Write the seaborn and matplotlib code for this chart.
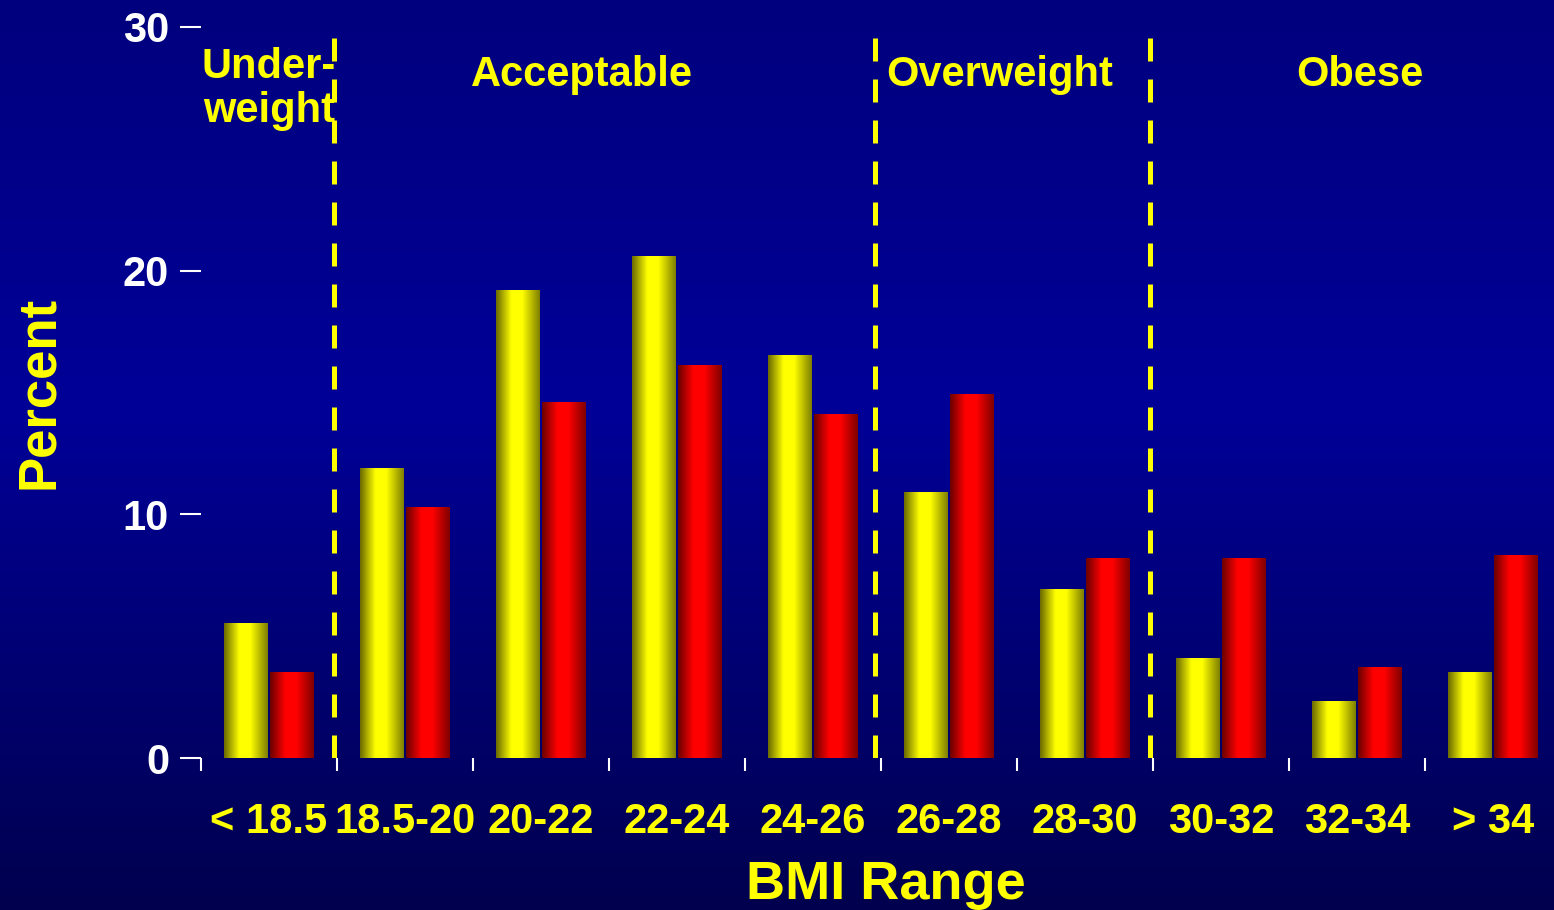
import numpy as np
import pandas as pd
import matplotlib.pyplot as plt
import matplotlib.colors as mcolors
import seaborn as sns

# -----------------------------
# Data
# -----------------------------
bmi_ranges = ["< 18.5", "18.5-20", "20-22", "22-24", "24-26",
              "26-28", "28-30", "30-32", "32-34", "> 34"]
series_a = [5.5, 11.9, 19.2, 20.6, 16.5, 10.9, 6.9, 4.1, 2.3, 3.5]
series_b = [3.5, 10.3, 14.6, 16.1, 14.1, 14.9, 8.2, 8.2, 3.7, 8.3]
series_names = ["Series A", "Series B"]
bar_colors = ["#FFFF00", "#FF0000"]

group_labels = ["Under-\nweight", "Acceptable", "Overweight", "Obese"]
group_label_x = [0.0, 2.3, 5.37, 8.02]
group_label_y = [27.45, 28.05, 28.05, 28.05]
divider_x = [0.48, 4.46, 6.48]
y_ticks = [0, 10, 20, 30]

df = pd.DataFrame({
    "BMI Range": bmi_ranges * 2,
    "Percent": series_a + series_b,
    "Group": [series_names[0]] * len(bmi_ranges) + [series_names[1]] * len(bmi_ranges),
})

sns.set_theme(style="white")
plt.rcParams['font.family'] = ['Liberation Sans', 'DejaVu Sans']
plt.rcParams['font.weight'] = 'bold'
plt.rcParams['axes.labelweight'] = 'bold'

fig = plt.figure(figsize=(15.54, 9.10), dpi=100)

# -----------------------------
# Background gradient
# -----------------------------
bg_ax = fig.add_axes([0, 0, 1, 1], zorder=-1)
bg_cmap = mcolors.LinearSegmentedColormap.from_list(
    "bg", [(0, "#00007E"), (0.45, "#000098"), (1, "#00004E")])
bg_ax.imshow(np.linspace(0, 1, 256)[:, None], cmap=bg_cmap, aspect='auto',
             extent=[0, 1, 0, 1])
bg_ax.axis('off')

# -----------------------------
# Bars
# -----------------------------
ax = fig.add_axes([201 / 1554, 152 / 910, 1353 / 1554, 731 / 910])
ax.set_facecolor('none')
sns.barplot(data=df, x="BMI Range", y="Percent", hue="Group",
            palette=bar_colors, width=0.68, saturation=1, legend=False,
            linewidth=0, ax=ax)

# cylinder-like horizontal shading on each bar
t = np.linspace(0, 1, 64)
shade = np.interp(t, [0, 0.35, 0.6, 1], [0.42, 1, 1, 0.5])
for bar in ax.patches:
    base = np.array(mcolors.to_rgb(bar.get_facecolor()))
    img = (shade[:, None] * base[None, :])[None, :, :]
    x0, y0 = bar.get_x(), bar.get_y()
    w, h = bar.get_width(), bar.get_height()
    ax.imshow(img, extent=[x0 + 0.01, x0 + w - 0.01, y0, y0 + h], aspect='auto',
              interpolation='bilinear', zorder=bar.get_zorder() + 0.1)
    bar.set_visible(False)

ax.set_xlim(-0.5, 9.45)
ax.set_ylim(0, 30)

# -----------------------------
# Dividers and group labels
# -----------------------------
for xv in divider_x:
    ax.axvline(xv, color='#FFFF00', lw=3.6, linestyle=(0, (4.6, 3.6)), zorder=5)

for lab, gx, gy in zip(group_labels, group_label_x, group_label_y):
    ax.text(gx, gy, lab, color='#FFFF00', fontsize=30, fontweight='bold',
            ha='center', va='center', linespacing=1.12, zorder=6)

# -----------------------------
# Axes styling
# -----------------------------
for s in ax.spines.values():
    s.set_visible(False)
ax.grid(False)

ax.set_yticks(y_ticks)
ax.tick_params(axis='y', colors='white', length=15, width=1.5,
               direction='out', pad=8, labelsize=30, left=True)
ax.set_xticks(range(len(bmi_ranges)))
ax.set_xticklabels(bmi_ranges)
ax.set_xticks(np.arange(-0.5, len(bmi_ranges) - 1, 1), minor=True)
ax.tick_params(axis='x', which='major', length=0, pad=32, labelsize=30,
               labelcolor='#FFFF00')
ax.tick_params(axis='x', which='minor', length=9, width=1.5, color='white',
               direction='out', bottom=True)

ax.set_ylabel("Percent", color='#FFFF00', fontsize=38, fontweight='bold')
ax.yaxis.set_label_coords(-0.101, 0.5)
ax.set_xlabel("BMI Range", color='#FFFF00', fontsize=39, fontweight='bold')
ax.xaxis.set_label_coords(0.506, -0.14)

fig.savefig("out.png", dpi=100)
